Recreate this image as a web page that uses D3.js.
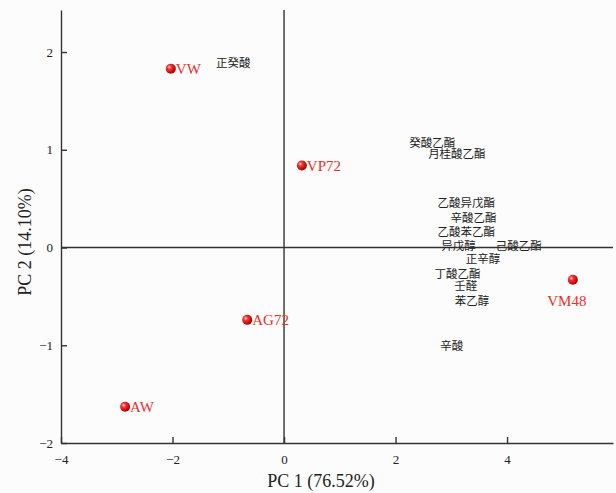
<!DOCTYPE html>
<html>
<head>
<meta charset="utf-8">
<script src="https://cdn.jsdelivr.net/npm/d3@7/dist/d3.min.js"></script>
<style>
  body { margin: 0; background: #fcfcfc; }
  svg { display: block; }
  .tick text { font-family: "Liberation Serif", "Times New Roman", serif; font-size: 13px; fill: #222; }
  .axis path, .axis line { stroke: #333; stroke-width: 1.4px; }
</style>
</head>
<body>
<svg width="616" height="493"></svg>
<script>
// sample scores
var sampleNames = ["VW", "VP72", "AG72", "AW", "VM48"],
    samplePC1 = [-2.03, 0.32, -0.66, -2.85, 5.18],
    samplePC2 = [1.83, 0.84, -0.74, -1.63, -0.33];

// volatile compound loadings (scaled)
var compoundNames = ["正癸酸", "癸酸乙酯", "月桂酸乙酯", "乙酸异戊酯", "辛酸乙酯", "乙酸苯乙酯",
                     "异戊醇", "己酸乙酯", "正辛醇", "丁酸乙酯", "壬醛", "苯乙醇", "辛酸"],
    compoundPC1 = [-0.91, 2.66, 3.10, 3.27, 3.40, 3.27, 3.13, 4.21, 3.57, 3.11, 3.26, 3.37, 3.01],
    compoundPC2 = [1.89, 1.07, 0.96, 0.46, 0.30, 0.16, 0.02, 0.02, -0.12, -0.27, -0.39, -0.55, -1.01];

var xTicks = [-4, -2, 0, 2, 4],
    yTicks = [-2, -1, 0, 1, 2];

var svg = d3.select("svg"),
    margin = {top: 10, right: 3, bottom: 50, left: 61},
    width = +svg.attr("width") - margin.left - margin.right,
    height = +svg.attr("height") - margin.top - margin.bottom;

var x = d3.scaleLinear().domain([-4, 5.9]).range([0, width]),
    y = d3.scaleLinear().domain([-2, 2.43]).range([height, 0]);

var defs = svg.append("defs");
var grad = defs.append("radialGradient")
    .attr("id", "ball")
    .attr("cx", "35%").attr("cy", "35%").attr("r", "65%");
grad.append("stop").attr("offset", "0%").attr("stop-color", "#ffd0d0");
grad.append("stop").attr("offset", "35%").attr("stop-color", "#f03030");
grad.append("stop").attr("offset", "100%").attr("stop-color", "#b00000");

var g = svg.append("g")
    .attr("transform", "translate(" + margin.left + "," + margin.top + ")");

// zero lines
g.append("line")
    .attr("x1", 0).attr("x2", width)
    .attr("y1", y(0)).attr("y2", y(0))
    .attr("stroke", "#333").attr("stroke-width", 1.4);
g.append("line")
    .attr("x1", x(0)).attr("x2", x(0))
    .attr("y1", 0).attr("y2", height)
    .attr("stroke", "#333").attr("stroke-width", 1.4);

g.append("g")
    .attr("class", "axis axis--x")
    .attr("transform", "translate(0," + height + ")")
    .call(d3.axisBottom(x).tickValues(xTicks).tickSizeInner(-6).tickSizeOuter(0).tickPadding(12).tickFormat(d3.format("d")));

g.append("g")
    .attr("class", "axis axis--y")
    .call(d3.axisLeft(y).tickValues(yTicks).tickSizeInner(-6).tickSizeOuter(0).tickPadding(8).tickFormat(d3.format("d")));

// axis titles
svg.append("text")
    .attr("x", 321).attr("y", 487)
    .attr("text-anchor", "middle")
    .style("font-family", "Liberation Serif, serif")
    .style("font-size", "18px")
    .attr("fill", "#222")
    .text("PC 1 (76.52%)");

svg.append("text")
    .attr("transform", "translate(31," + 242 + ") rotate(-90)")
    .attr("text-anchor", "middle")
    .style("font-family", "Liberation Serif, serif")
    .style("font-size", "18px")
    .attr("fill", "#222")
    .text("PC 2 (14.10%)");

// compound labels
g.selectAll(".compound")
    .data(compoundNames)
  .enter().append("text")
    .attr("class", "compound")
    .attr("x", function(d, i) { return x(compoundPC1[i]); })
    .attr("y", function(d, i) { return y(compoundPC2[i]); })
    .attr("dy", "0.35em")
    .attr("text-anchor", "middle")
    .style("font-family", "Noto Sans CJK SC, sans-serif")
    .style("font-size", "11.5px")
    .attr("fill", "#222")
    .text(function(d) { return d; });

// sample points
var samples = g.selectAll(".sample")
    .data(sampleNames)
  .enter().append("g")
    .attr("class", "sample")
    .attr("transform", function(d, i) { return "translate(" + x(samplePC1[i]) + "," + y(samplePC2[i]) + ")"; });

samples.append("circle")
    .attr("r", 5)
    .attr("fill", "url(#ball)");

samples.append("text")
    .attr("x", function(d) { return d === "VM48" ? -6 : 5; })
    .attr("y", function(d) { return d === "VM48" ? 21 : 0; })
    .attr("dy", "0.35em")
    .attr("text-anchor", function(d) { return d === "VM48" ? "middle" : "start"; })
    .style("font-family", "Liberation Serif, serif")
    .style("font-size", "15px")
    .attr("fill", "#e8302a")
    .text(function(d) { return d; });
</script>
</body>
</html>
